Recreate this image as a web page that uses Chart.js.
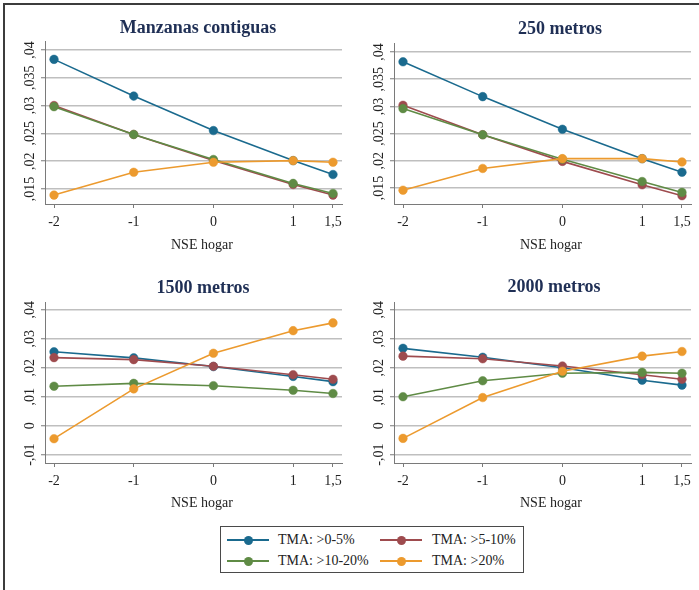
<!DOCTYPE html>
<html>
<head>
<meta charset="utf-8">
<script src="https://cdn.jsdelivr.net/npm/chart.js@4.4.1/dist/chart.umd.min.js"></script>
<style>
  body { margin: 0; background: #fff; }
  #fig { position: relative; width: 699px; height: 590px; overflow: hidden; font-family: 'Liberation Serif', 'DejaVu Serif', serif; }
  #frame { position: absolute; left: 3px; top: 3px; width: 720px; height: 620px; border-top: 2px solid #3c3c3c; border-left: 2px solid #3c3c3c; }
  .panel { position: absolute; }
  .ptitle { position: absolute; transform: translate(-50%, -50%); white-space: nowrap; font-weight: bold; font-size: 18px; color: #1f2f55; }
  #legend { position: absolute; left: 220px; top: 526px; width: 302px; height: 45px; border: 1px solid #4a4a4a; }
  .lg-line { position: absolute; height: 2.5px; width: 42px; }
  .lg-dot { position: absolute; width: 9px; height: 9px; border-radius: 50%; }
  .lg-text { position: absolute; font-size: 14px; color: #222; transform: translateY(-50%); white-space: nowrap; }
</style>
</head>
<body>
<div id="fig">
  <div id="frame"></div>
  <div id="legend"></div>
</div>
<script>
// ─── datos ─────────────────────────────────────────────
const nseValues = [-2, -1, 0, 1, 1.5];
const xTicks = [-2, -1, 0, 1, 1.5];
const yTicksTop = [0.015, 0.02, 0.025, 0.03, 0.035, 0.04];
const yTicksBottom = [-0.01, 0, 0.01, 0.02, 0.03, 0.04];
const seriesNames = ['TMA: >0-5%', 'TMA: >5-10%', 'TMA: >10-20%', 'TMA: >20%'];
const panelTitles = ['Manzanas contiguas', '250 metros', '1500 metros', '2000 metros'];

// Manzanas contiguas
const mzA = [0.0383, 0.0317, 0.0255, 0.0201, 0.0176];
const mzB = [0.0300, 0.0248, 0.0201, 0.0158, 0.0139];
const mzC = [0.0298, 0.0248, 0.0203, 0.0160, 0.0142];
const mzD = [0.0139, 0.0180, 0.0198, 0.0201, 0.0198];
// 250 metros
const m250A = [0.0382, 0.0318, 0.0258, 0.0204, 0.0179];
const m250B = [0.0302, 0.0248, 0.0199, 0.0156, 0.0136];
const m250C = [0.0296, 0.0248, 0.0203, 0.0162, 0.0142];
const m250D = [0.0146, 0.0186, 0.0204, 0.0204, 0.0198];
// 1500 metros
const m1500A = [0.0255, 0.0234, 0.0204, 0.0170, 0.0152];
const m1500B = [0.0235, 0.0228, 0.0205, 0.0176, 0.0160];
const m1500C = [0.0136, 0.0146, 0.0138, 0.0122, 0.0111];
const m1500D = [-0.0045, 0.0127, 0.0250, 0.0328, 0.0355];
// 2000 metros
const m2000A = [0.0267, 0.0236, 0.0200, 0.0157, 0.0140];
const m2000B = [0.0240, 0.0231, 0.0206, 0.0176, 0.0160];
const m2000C = [0.0100, 0.0155, 0.0181, 0.0184, 0.0181];
const m2000D = [-0.0044, 0.0097, 0.0188, 0.0240, 0.0256];

// ─── estilo ────────────────────────────────────────────
const COLORS = ['#1a6a8e', '#9e4b4e', '#5f8b45', '#ec9a2e'];
const INK = '#222222';
const AXIS = '#7a7a7a';
const GRID = '#bfbfbf';
const FONT = "'Liberation Serif', 'DejaVu Serif', serif";

Chart.defaults.font.family = FONT;
Chart.defaults.color = INK;

// posición de cada panel (px en la figura)
const PANELS = [
  { title: panelTitles[0], data: [mzA, mzB, mzC, mzD], yTicks: yTicksTop, yMin: 0.0123, yMax: 0.0416,
    box: [0, 0, 350, 262], padTop: 41, yWidth: 45, xHeight: 58, titleAt: [198, 27] },
  { title: panelTitles[1], data: [m250A, m250B, m250C, m250D], yTicks: yTicksTop, yMin: 0.01207, yMax: 0.04165,
    box: [350, 0, 349, 262], padTop: 43, yWidth: 44, xHeight: 58, titleAt: [560, 28] },
  { title: panelTitles[2], data: [m1500A, m1500B, m1500C, m1500D], yTicks: yTicksBottom, yMin: -0.0129, yMax: 0.0427,
    box: [0, 262, 350, 256], padTop: 40, yWidth: 45, xHeight: 55, titleAt: [203, 287] },
  { title: panelTitles[3], data: [m2000A, m2000B, m2000C, m2000D], yTicks: yTicksBottom, yMin: -0.0129, yMax: 0.0427,
    box: [350, 262, 349, 256], padTop: 40, yWidth: 44, xHeight: 55, titleAt: [554, 286] }
];

// ,04  -,01  1,5
const fmtY = v => String(+v.toFixed(4)).replace('0.', '.').replace('.', ',');
const fmtX = v => String(v).replace('.', ',');

// etiquetas del eje Y giradas 90°
const rotatedYLabels = {
  id: 'rotatedYLabels',
  afterDraw(chart) {
    const y = chart.scales.y;
    const ctx = chart.ctx;
    ctx.save();
    ctx.fillStyle = INK;
    ctx.font = '14px ' + FONT;
    ctx.textAlign = 'center';
    ctx.textBaseline = 'middle';
    y.ticks.forEach(t => {
      ctx.save();
      ctx.translate(chart.chartArea.left - 15, y.getPixelForValue(t.value));
      ctx.rotate(-Math.PI / 2);
      ctx.fillText(fmtY(t.value), 0, 0);
      ctx.restore();
    });
    ctx.restore();
  }
};

const fig = document.getElementById('fig');

PANELS.forEach(p => {
  const [left, top, w, h] = p.box;
  const wrap = document.createElement('div');
  wrap.className = 'panel';
  wrap.style.left = left + 'px';
  wrap.style.top = top + 'px';
  const canvas = document.createElement('canvas');
  canvas.width = w;
  canvas.height = h;
  wrap.appendChild(canvas);
  fig.appendChild(wrap);

  const t = document.createElement('div');
  t.className = 'ptitle';
  t.textContent = p.title;
  t.style.left = p.titleAt[0] + 'px';
  t.style.top = p.titleAt[1] + 'px';
  fig.appendChild(t);

  new Chart(canvas, {
    type: 'line',
    data: {
      datasets: p.data.map((vals, i) => ({
        label: seriesNames[i],
        data: nseValues.map((x, j) => ({ x, y: vals[j] })),
        borderColor: COLORS[i],
        backgroundColor: COLORS[i],
        pointBackgroundColor: COLORS[i],
        pointBorderColor: COLORS[i],
        borderWidth: 1.6,
        pointRadius: 4.3,
        pointBorderWidth: 0.5,
        tension: 0,
        order: 3 - i
      }))
    },
    options: {
      responsive: false,
      animation: false,
      events: [],
      layout: { padding: { top: p.padTop, right: 8, left: 0, bottom: 0 } },
      plugins: { legend: { display: false }, tooltip: { enabled: false } },
      scales: {
        x: {
          type: 'linear',
          min: -2.113,
          max: 1.613,
          afterBuildTicks: s => { s.ticks = xTicks.map(value => ({ value })); },
          afterFit: s => { s.height = p.xHeight; },
          ticks: { font: { size: 14 }, color: INK, padding: 6, maxRotation: 0, callback: v => fmtX(v) },
          grid: { drawOnChartArea: false, drawTicks: true, tickLength: 4, color: AXIS },
          border: { color: AXIS, width: 1 },
          // espacio inicial: el título va ~8px a la derecha del centro, como en el original
          title: { display: true, text: '\u2003\u2009NSE hogar', font: { size: 14 }, color: INK,
                   padding: { top: 0, bottom: p.xHeight === 58 ? 8.6 : 6.6 } }
        },
        y: {
          min: p.yMin,
          max: p.yMax,
          afterBuildTicks: s => { s.ticks = p.yTicks.map(value => ({ value })); },
          afterFit: s => { s.width = p.yWidth; },
          ticks: { display: false },
          grid: { color: GRID, lineWidth: 1.5, drawTicks: true, tickLength: 4, tickColor: AXIS, tickWidth: 1 },
          border: { color: AXIS, width: 1 }
        }
      }
    },
    plugins: [rotatedYLabels]
  });
});

// ─── leyenda ───────────────────────────────────────────
const legend = document.getElementById('legend');
seriesNames.forEach((name, i) => {
  const row = i >> 1, col = i & 1;
  const cy = row === 0 ? 13 : 34;
  const lx = col === 0 ? 6 : 159;
  const line = document.createElement('div');
  line.className = 'lg-line';
  line.style.background = COLORS[i];
  line.style.left = lx + 'px';
  line.style.top = (cy - 1.25) + 'px';
  const dot = document.createElement('div');
  dot.className = 'lg-dot';
  dot.style.background = COLORS[i];
  dot.style.left = (lx + 21 - 4.5) + 'px';
  dot.style.top = (cy - 4.5) + 'px';
  const txt = document.createElement('div');
  txt.className = 'lg-text';
  txt.textContent = name;
  txt.style.left = (col === 0 ? 57 : 211) + 'px';
  txt.style.top = cy + 'px';
  legend.append(line, dot, txt);
});
</script>
</body>
</html>
